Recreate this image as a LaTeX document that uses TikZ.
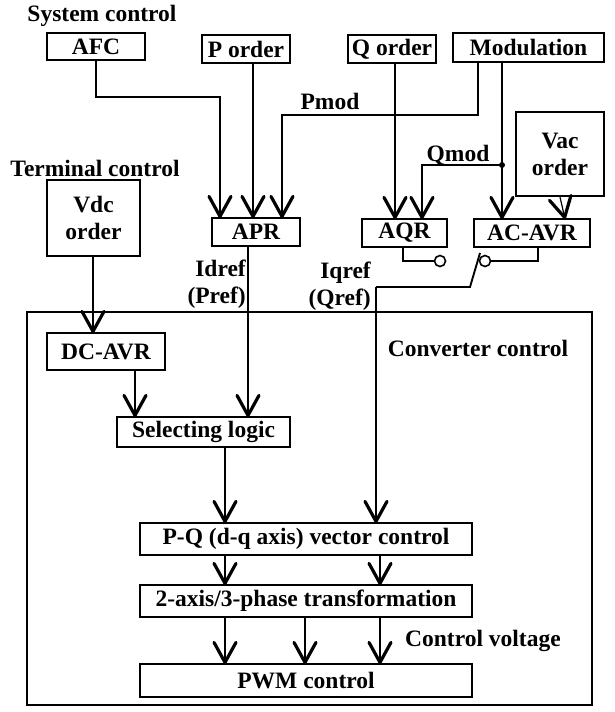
\documentclass[tikz,border=0pt]{standalone}
\usepackage{fontspec}
\setmainfont{Liberation Serif}
\usetikzlibrary{arrows.meta}
\begin{document}
\begin{tikzpicture}[x=1pt,y=-1pt,
  every node/.style={font=\fontsize{23.5}{27}\selectfont\bfseries},
  box/.style={draw,line width=1.9pt,inner sep=0pt,align=center},
  lbl/.style={inner sep=0pt},
  ln/.style={line width=1.9pt},
  tn/.style={line width=1.2pt},
  arr/.style={-{Straight Barb[length=20pt,width=22pt,line width=3.2pt,round]}},
]
\useasboundingbox (0,0) rectangle (615,712);
% top boxes
\node[box,minimum width=98pt,minimum height=27pt] (afc) at (96,46.5) {AFC};
\node[box,minimum width=88pt,minimum height=28pt] (pord) at (246,49) {P order};
\node[box,minimum width=88pt,minimum height=28pt] (qord) at (392,49) {Q order};
\node[box,minimum width=151pt,minimum height=29pt] (mod) at (528.5,47.5) {Modulation};
\node[box,minimum width=88pt,minimum height=84pt] (vac) at (560,154) {Vac\\order};
\node[box,minimum width=93pt,minimum height=76pt] (vdc) at (93.5,218) {Vdc\\order};
\node[box,minimum width=88pt,minimum height=28pt] (apr) at (256,232) {APR};
\node[box,minimum width=85pt,minimum height=28pt] (aqr) at (404.5,233) {AQR};
\node[box,minimum width=116pt,minimum height=28pt] (acavr) at (532,233) {AC-AVR};
% converter
\node[draw,line width=1.7pt,minimum width=565pt,minimum height=393pt,inner sep=0pt] (conv) at (309.5,508.5) {};
\node[box,minimum width=118pt,minimum height=37pt] (dcavr) at (106,351.5) {DC-AVR};
\node[box,minimum width=173pt,minimum height=30pt] (sel) at (203.5,432) {Selecting logic};
\node[box,minimum width=332pt,minimum height=32pt] (pq) at (306,539) {P-Q (d-q axis) vector control};
\node[box,minimum width=332pt,minimum height=32pt] (tr) at (306,601) {2-axis/3-phase transformation};
\node[box,minimum width=332pt,minimum height=33pt] (pwm) at (306,680.5) {PWM control};
% labels
\node[lbl] (sysc) at (102,16) {System control};
\node[lbl] (termc) at (95,168) {Terminal control};
\node[lbl] (pmod) at (330,101) {Pmod};
\node[lbl] (qmod) at (458,155) {Qmod};
\node[lbl,anchor=east,align=right] (idref) at (246,284) {Idref\\(Pref)};
\node[lbl,anchor=east,align=right] (iqref) at (371,286) {Iqref\\(Qref)};
\node[lbl] (convc) at (478,348) {Converter control};
\node[lbl,anchor=west] (cv) at (405,641) {Control voltage};
% coordinates
\coordinate (jq) at (502,165);
\coordinate (c1) at (440,261);
\coordinate (c2) at (485,261);
\coordinate (sw) at (470,287);
\coordinate (swt) at (480,253);
\coordinate (ql) at (376,287);
% connectors top
\draw[ln,arr] (afc.south) -- (96,97) -- (220,97) -- (220,218);
\draw[ln,arr] (253,63) -- (253,218);
\draw[tn,arr] (478,62) -- (478,115) -- (282,115) -- (282,218);
\draw[ln,arr] (395,63) -- (395,219);
\draw[ln,arr] (502,62) -- (502,219);
\draw[ln,arr] (jq) -- (422,165) -- (422,219);
\fill (jq) circle (3pt);
\draw[tn,arr] (vac.south) -- (565,219);
% switch
\draw[tn] (403,247) -- (403,261) -- ([xshift=-5.5pt]c1);
\draw[line width=1.6pt] (c1) circle (5.5pt);
\draw[tn] (538,247) -- (538,261) -- ([xshift=5.5pt]c2);
\draw[line width=1.6pt] (c2) circle (5.5pt);
\draw[ln] (swt) -- (sw) -- (ql);
\draw[ln,arr] (ql) -- (376,523);
% converter connectors
\draw[tn,arr] (93,256) -- (93,333);
\draw[tn,arr] (248,246) -- (248,417);
\draw[ln,arr] (135,370) -- (135,417);
\draw[tn,arr] (225,447) -- (225,523);
\draw[ln,arr] (225,555) -- (225,585);
\draw[ln,arr] (380,555) -- (380,585);
\draw[ln,arr] (225,617) -- (225,664);
\draw[ln,arr] (305,617) -- (305,664);
\draw[ln,arr] (380,617) -- (380,664);
\end{tikzpicture}
\end{document}
